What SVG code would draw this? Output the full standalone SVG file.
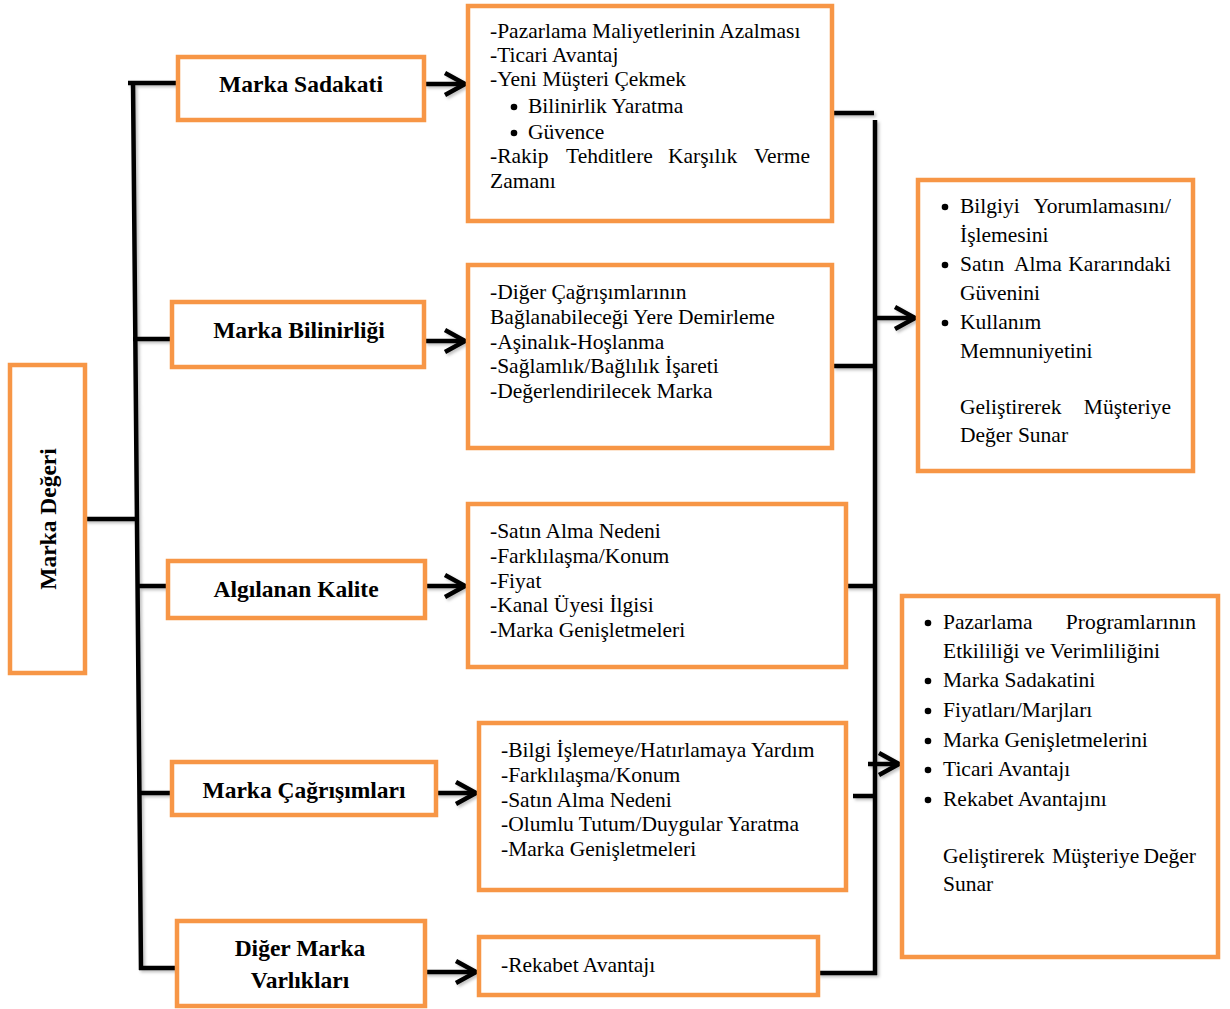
<svg xmlns="http://www.w3.org/2000/svg" width="1230" height="1009" viewBox="0 0 1230 1009">
<style>
.box{fill:#fff;stroke:#F79646;stroke-width:4.5}
.t{font-family:"Liberation Serif","Times New Roman",serif;font-size:21.5px;fill:#000}
.b{font-family:"Liberation Serif","Times New Roman",serif;font-size:23.5px;font-weight:bold;fill:#000;text-anchor:middle}
.c{stroke:#000;stroke-width:4.5;fill:none}
.e{text-anchor:end}
.dot{fill:#000}
</style>
<defs>
<filter id="sh" x="-10%" y="-10%" width="130%" height="130%">
<feDropShadow dx="2" dy="2" stdDeviation="1.5" flood-color="#000" flood-opacity="0.25"/>
</filter>
<marker id="ar" markerUnits="userSpaceOnUse" markerWidth="30" markerHeight="30" refX="24" refY="15" orient="auto">
<path d="M4,4 L24,15 L4,26" fill="none" stroke="#000" stroke-width="4.5" stroke-linejoin="miter"/>
</marker>
</defs>
<rect width="1230" height="1009" fill="#fff"/>

<g id="connectors" filter="url(#sh)">
<path class="c" d="M85,519 H135"/>
<path class="c" d="M128,83 H176 M133,81 L141,970 M133,339 H172 M137,586 H167 M139,793 H172 M139,968 H177"/>
<path class="c" d="M425,84 H465" marker-end="url(#ar)"/>
<path class="c" d="M425,341 H465" marker-end="url(#ar)"/>
<path class="c" d="M425,586 H465" marker-end="url(#ar)"/>
<path class="c" d="M436,793 H476" marker-end="url(#ar)"/>
<path class="c" d="M425,972 H476" marker-end="url(#ar)"/>
<path class="c" d="M826,113 H874 M875,120 V975 M833,366 H875 M846,586 H875 M853,796 H875 M818,973 H877"/>
<path class="c" d="M875,318 H915" marker-end="url(#ar)"/>
<path class="c" d="M868,764 H899" marker-end="url(#ar)"/>
</g>

<g id="marka-degeri">
<rect class="box" x="10" y="365" width="75" height="308"/>
<text class="b" transform="translate(48,519) rotate(-90)" y="8">Marka Değeri</text>
</g>

<g id="marka-sadakati">
<rect class="box" x="178" y="57" width="246" height="63"/>
<text class="b" x="301" y="92">Marka Sadakati</text>
</g>
<g id="marka-bilinirligi">
<rect class="box" x="172" y="302" width="252" height="65"/>
<text class="b" x="299" y="338">Marka Bilinirliği</text>
</g>
<g id="algilanan-kalite">
<rect class="box" x="168" y="561" width="257" height="57"/>
<text class="b" x="296" y="597">Algılanan Kalite</text>
</g>
<g id="marka-cagrisimlari">
<rect class="box" x="172" y="762" width="264" height="53"/>
<text class="b" x="304" y="798">Marka Çağrışımları</text>
</g>
<g id="diger-marka-varliklari">
<rect class="box" x="177" y="921" width="248" height="85"/>
<text class="b" x="300" y="956">Diğer Marka</text>
<text class="b" x="300" y="988">Varlıkları</text>
</g>

<g id="sadakat-detay">
<rect class="box" x="468" y="6" width="364" height="215"/>
<text class="t" x="490" y="38">-Pazarlama Maliyetlerinin Azalması</text>
<text class="t" x="490" y="62">-Ticari Avantaj</text>
<text class="t" x="490" y="86">-Yeni Müşteri Çekmek</text>
<circle class="dot" cx="514" cy="107" r="3.3"/>
<text class="t" x="528" y="113">Bilinirlik Yaratma</text>
<circle class="dot" cx="514" cy="133" r="3.3"/>
<text class="t" x="528" y="139">Güvence</text>
<text class="t" x="490" y="163">-Rakip</text>
<text class="t" x="566" y="163">Tehditlere</text>
<text class="t" x="668" y="163">Karşılık</text>
<text class="t e" x="810" y="163">Verme</text>
<text class="t" x="490" y="188">Zamanı</text>
</g>

<g id="bilinirlik-detay">
<rect class="box" x="468" y="265" width="364" height="183"/>
<text class="t" x="490" y="299">-Diğer Çağrışımlarının</text>
<text class="t" x="490" y="324">Bağlanabileceği Yere Demirleme</text>
<text class="t" x="490" y="349">-Aşinalık-Hoşlanma</text>
<text class="t" x="490" y="373">-Sağlamlık/Bağlılık İşareti</text>
<text class="t" x="490" y="398">-Değerlendirilecek Marka</text>
</g>

<g id="kalite-detay">
<rect class="box" x="468" y="504" width="378" height="163"/>
<text class="t" x="490" y="538">-Satın Alma Nedeni</text>
<text class="t" x="490" y="563">-Farklılaşma/Konum</text>
<text class="t" x="490" y="588">-Fiyat</text>
<text class="t" x="490" y="612">-Kanal Üyesi İlgisi</text>
<text class="t" x="490" y="637">-Marka Genişletmeleri</text>
</g>

<g id="cagrisim-detay">
<rect class="box" x="479" y="723" width="367" height="167"/>
<text class="t" x="501" y="757">-Bilgi İşlemeye/Hatırlamaya Yardım</text>
<text class="t" x="501" y="782">-Farklılaşma/Konum</text>
<text class="t" x="501" y="807">-Satın Alma Nedeni</text>
<text class="t" x="501" y="831">-Olumlu Tutum/Duygular Yaratma</text>
<text class="t" x="501" y="856">-Marka Genişletmeleri</text>
</g>

<g id="diger-detay">
<rect class="box" x="479" y="937" width="339" height="58"/>
<text class="t" x="501" y="972">-Rekabet Avantajı</text>
</g>

<g id="musteri-degeri-1">
<rect class="box" x="918" y="180" width="275" height="291"/>
<circle class="dot" cx="945" cy="207" r="3.3"/>
<text class="t" x="960" y="213">Bilgiyi</text>
<text class="t e" x="1171" y="213">Yorumlamasını/</text>
<text class="t" x="960" y="242">İşlemesini</text>
<circle class="dot" cx="945" cy="265" r="3.3"/>
<text class="t" x="960" y="271">Satın</text>
<text class="t" x="1014" y="271">Alma</text>
<text class="t e" x="1171" y="271">Kararındaki</text>
<text class="t" x="960" y="300">Güvenini</text>
<circle class="dot" cx="945" cy="323" r="3.3"/>
<text class="t" x="960" y="329">Kullanım</text>
<text class="t" x="960" y="358">Memnuniyetini</text>
<text class="t" x="960" y="414">Geliştirerek</text>
<text class="t e" x="1171" y="414">Müşteriye</text>
<text class="t" x="960" y="442">Değer Sunar</text>
</g>

<g id="musteri-degeri-2">
<rect class="box" x="902" y="596" width="316" height="361"/>
<circle class="dot" cx="928" cy="623" r="3.3"/>
<text class="t" x="943" y="629">Pazarlama</text>
<text class="t e" x="1196" y="629">Programlarının</text>
<text class="t" x="943" y="658">Etkililiği ve Verimliliğini</text>
<circle class="dot" cx="928" cy="681" r="3.3"/>
<text class="t" x="943" y="687">Marka Sadakatini</text>
<circle class="dot" cx="928" cy="711" r="3.3"/>
<text class="t" x="943" y="717">Fiyatları/Marjları</text>
<circle class="dot" cx="928" cy="741" r="3.3"/>
<text class="t" x="943" y="747">Marka Genişletmelerini</text>
<circle class="dot" cx="928" cy="770" r="3.3"/>
<text class="t" x="943" y="776">Ticari Avantajı</text>
<circle class="dot" cx="928" cy="800" r="3.3"/>
<text class="t" x="943" y="806">Rekabet Avantajını</text>
<text class="t" x="943" y="863">Geliştirerek</text>
<text class="t" x="1052" y="863">Müşteriye</text>
<text class="t e" x="1196" y="863">Değer</text>
<text class="t" x="943" y="891">Sunar</text>
</g>
</svg>
